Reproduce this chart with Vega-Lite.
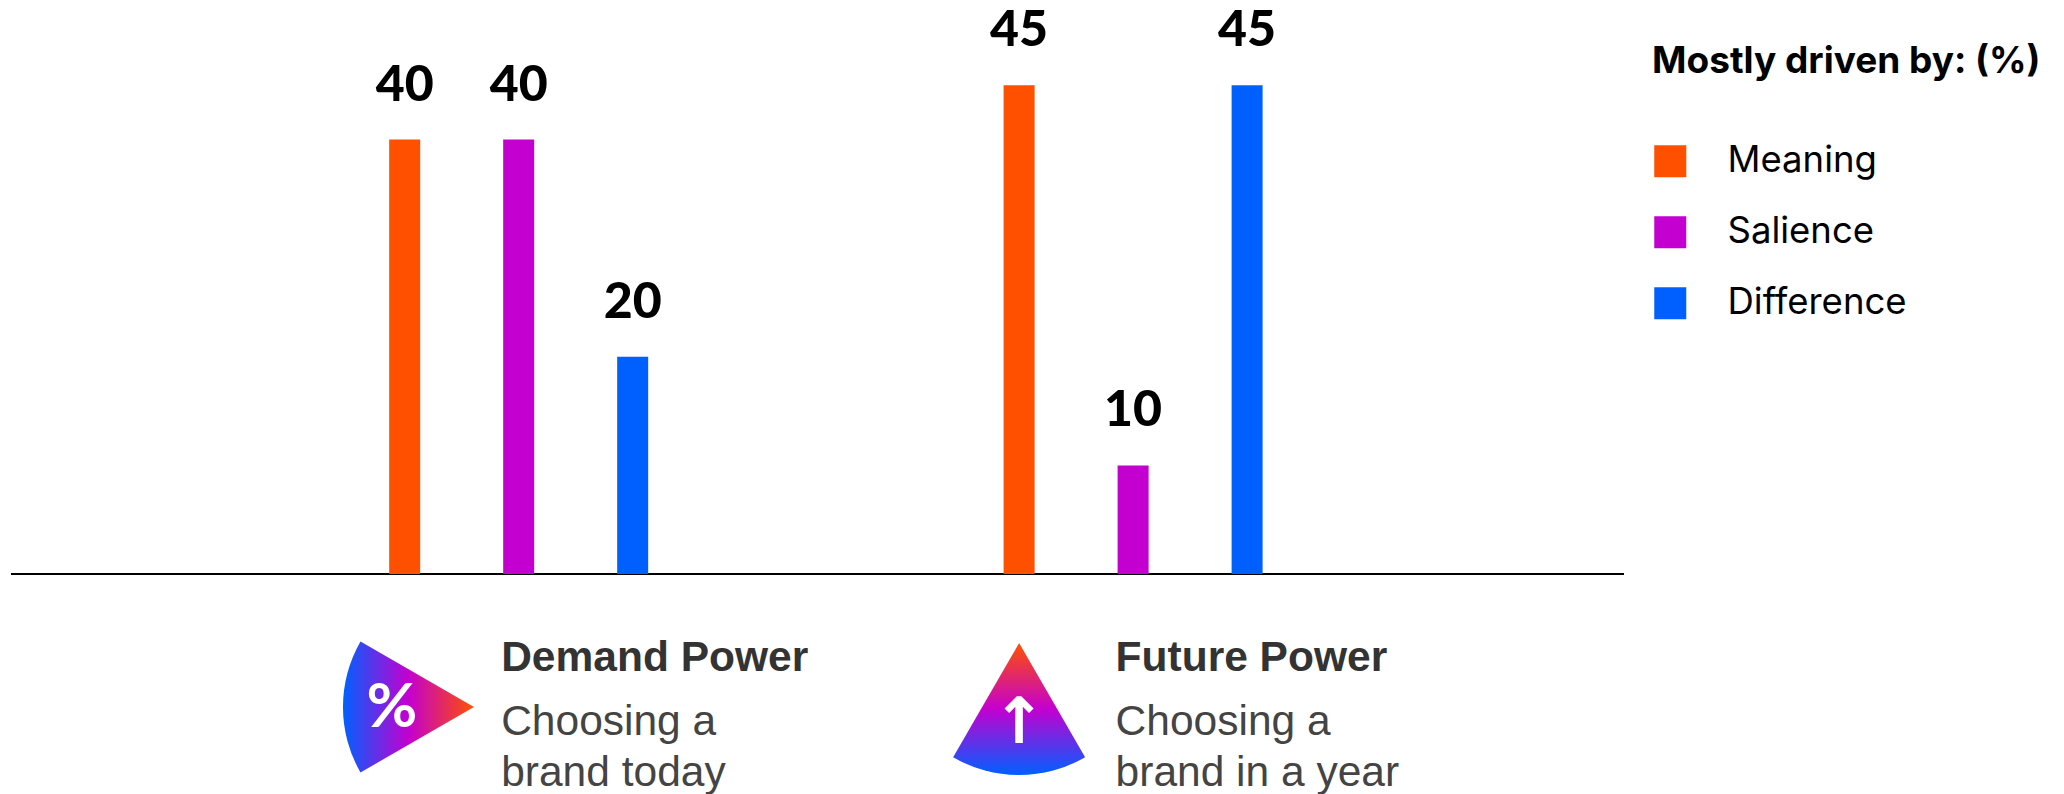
{
  "$schema": "https://vega.github.io/schema/vega-lite/v6.json",
  "width": 1613,
  "height": 574,
  "autosize": {"type": "none"},
  "padding": {"left": 11, "top": 0, "right": 440, "bottom": 220},
  "background": "white",
  "datasets": {
    "bars": [
      {"measure": "Demand Power", "driver": "Meaning", "percent": 40},
      {"measure": "Demand Power", "driver": "Salience", "percent": 40},
      {"measure": "Demand Power", "driver": "Difference", "percent": 20},
      {"measure": "Future Power", "driver": "Meaning", "percent": 45},
      {"measure": "Future Power", "driver": "Salience", "percent": 10},
      {"measure": "Future Power", "driver": "Difference", "percent": 45}
    ],
    "captions": [
      {"measure": "Demand Power", "blurb": "Choosing a\nbrand today"},
      {"measure": "Future Power", "blurb": "Choosing a\nbrand in a year"}
    ]
  },
  "config": {"view": {"stroke": null}},
  "encoding": {
    "x": {
      "field": "measure",
      "type": "nominal",
      "sort": null,
      "scale": {"domain": ["Demand Power", "Future Power"], "paddingInner": 0.2074, "paddingOuter": 0.4163, "align": 0.5164},
      "axis": {"title": null, "labels": false, "ticks": false, "grid": false, "domain": true, "domainColor": "#000000", "domainWidth": 2, "translate": 0}
    }
  },
  "layer": [
    {
      "data": {"name": "bars"},
      "mark": {"type": "bar", "width": 31},
      "encoding": {
        "xOffset": {
          "field": "driver",
          "type": "nominal",
          "sort": null,
          "scale": {"domain": ["Meaning", "Salience", "Difference"], "paddingInner": 0.728, "paddingOuter": 1}
        },
        "y": {
          "field": "percent",
          "type": "quantitative",
          "scale": {"domain": [0, 52.85], "nice": false, "zero": true},
          "axis": null
        },
        "color": {
          "field": "driver",
          "type": "nominal",
          "scale": {"domain": ["Meaning", "Salience", "Difference"], "range": ["#FF5000", "#C400D0", "#0060FF"]},
          "legend": {
            "title": "Mostly driven by: (%)",
            "orient": "none",
            "legendX": 1641,
            "legendY": 44,
            "padding": 0,
            "titleFont": "Inter",
            "titleFontWeight": "bold",
            "titleFontSize": 37,
            "titleLimit": 600,
            "titleColor": "#000000",
            "titlePadding": 62,
            "labelFont": "Inter",
            "labelFontSize": 36.5,
            "labelLimit": 400,
            "labelColor": "#000000",
            "labelOffset": 39,
            "symbolType": "square",
            "symbolSize": 1024,
            "symbolStrokeWidth": 0,
            "symbolOpacity": 1,
            "rowPadding": 34
          }
        }
      }
    },
    {
      "data": {"name": "bars"},
      "mark": {"type": "text", "font": "Lato", "fontWeight": 900, "fontSize": 50, "color": "#000000", "baseline": "alphabetic", "align": "center", "dy": -39},
      "encoding": {
        "xOffset": {"field": "driver", "type": "nominal", "sort": null},
        "y": {"field": "percent", "type": "quantitative"},
        "text": {"field": "percent", "type": "quantitative"}
      }
    },
    {
      "data": {"name": "captions"},
      "mark": {"type": "text", "font": "Liberation Sans", "fontWeight": "bold", "fontSize": 42.5, "color": "#333333", "baseline": "alphabetic", "align": "left", "dx": -17.5, "dy": 97},
      "encoding": {
        "y": {"datum": 0, "type": "quantitative"},
        "text": {"field": "measure", "type": "nominal"}
      }
    },
    {
      "data": {"name": "captions"},
      "mark": {"type": "text", "font": "Liberation Sans", "fontSize": 42.5, "color": "#444444", "baseline": "alphabetic", "align": "left", "dx": -17.5, "dy": 161, "lineBreak": "\n", "lineHeight": 51},
      "encoding": {
        "y": {"datum": 0, "type": "quantitative"},
        "text": {"field": "blurb", "type": "nominal"}
      }
    },
    {
      "data": {"values": [{"measure": "Demand Power"}]},
      "mark": {
        "type": "arc",
        "theta": 4.189,
        "theta2": 5.236,
        "innerRadius": 0,
        "outerRadius": 131,
        "xOffset": -44.7,
        "yOffset": 133,
        "color": {
          "gradient": "linear",
          "x1": 0, "y1": 0, "x2": 1, "y2": 0,
          "stops": [
            {"offset": 0, "color": "#0060FF"},
            {"offset": 0.5, "color": "#C400D0"},
            {"offset": 1, "color": "#FF5000"}
          ]
        }
      },
      "encoding": {"y": {"datum": 0, "type": "quantitative"}}
    },
    {
      "data": {"values": [{"measure": "Future Power"}]},
      "mark": {
        "type": "arc",
        "theta": 2.618,
        "theta2": 3.665,
        "innerRadius": 0,
        "outerRadius": 132,
        "xOffset": -114,
        "yOffset": 69,
        "color": {
          "gradient": "linear",
          "x1": 0, "y1": 1, "x2": 0, "y2": 0,
          "stops": [
            {"offset": 0, "color": "#0060FF"},
            {"offset": 0.5, "color": "#C400D0"},
            {"offset": 1, "color": "#FF5000"}
          ]
        }
      },
      "encoding": {"y": {"datum": 0, "type": "quantitative"}}
    },
    {
      "data": {"values": [{"measure": "Demand Power", "glyph": "%"}]},
      "mark": {"type": "text", "font": "Lato", "fontWeight": "bold", "fontSize": 62, "color": "#FFFFFF", "baseline": "middle", "align": "center", "dx": -126.7, "dy": 134},
      "encoding": {
        "y": {"datum": 0, "type": "quantitative"},
        "text": {"field": "glyph", "type": "nominal"}
      }
    },
    {
      "data": {"values": [{"measure": "Future Power", "glyph": "↑"}]},
      "mark": {"type": "text", "font": "DejaVu Sans", "fontWeight": "bold", "fontSize": 64, "color": "#FFFFFF", "baseline": "middle", "align": "center", "dx": -114, "dy": 150},
      "encoding": {
        "y": {"datum": 0, "type": "quantitative"},
        "text": {"field": "glyph", "type": "nominal"}
      }
    }
  ]
}
